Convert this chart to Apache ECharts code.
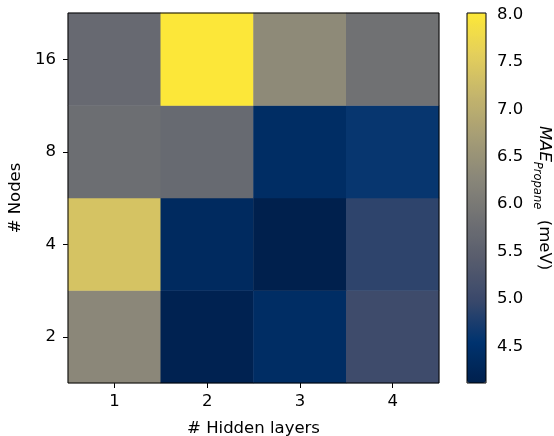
<!DOCTYPE html>
<html><head><meta charset="utf-8">
<script src="https://cdn.jsdelivr.net/npm/echarts@6/dist/echarts.min.js"></script>
<style>html,body{margin:0;padding:0;background:#fff}#c{width:554px;height:436px}</style>
</head><body><div id="c"></div>
<script>
const hiddenLayers = ['1', '2', '3', '4'];
const nodes = ['2', '4', '8', '16'];
// rows by node count (bottom to top), columns = hidden layers 1..4
const mae_n2  = [6.29, 4.16, 4.41, 5.05];
const mae_n4  = [7.38, 4.34, 4.11, 4.90];
const mae_n8  = [5.78, 5.70, 4.41, 4.60];
const mae_n16 = [5.69, 8.00, 6.35, 5.84];
const cbTicks = [4.5, 5.0, 5.5, 6.0, 6.5, 7.0, 7.5, 8.0];
const vmin = 4.115, vmax = 8.015;

const rows = [mae_n2, mae_n4, mae_n8, mae_n16];
const data = [];
rows.forEach((r, yi) => r.forEach((v, xi) => data.push([xi, yi, v])));

const cividis = ['#00204D','#00336F','#39486B','#575C6D','#707173','#8A8779','#A69D75','#C4B56C','#E4CF5B','#FDE838'];
const F = 'DejaVu Sans';
const FS = 16.5;
const chart = echarts.init(document.getElementById('c'), null, {renderer: 'canvas'});
chart.setOption({
  animation: false,
  backgroundColor: '#fff',
  textStyle: {fontFamily: F},
  grid: [
    {left: 68, top: 13, width: 371, height: 370, show: true, borderColor: '#000', borderWidth: 1, backgroundColor: 'transparent', z: 5, containLabel: false, outerBoundsMode: 'none'},
    {left: 467, top: 13, width: 19, height: 370, show: true, borderColor: '#000', borderWidth: 1, backgroundColor: 'transparent', z: 5, containLabel: false, outerBoundsMode: 'none'}
  ],
  xAxis: [
    {type: 'category', data: hiddenLayers, gridIndex: 0, position: 'bottom',
     name: '# Hidden layers', nameLocation: 'middle', nameGap: 37,
     nameTextStyle: {fontSize: FS, color: '#000', fontFamily: F},
     axisLine: {show: false}, splitLine: {show: false},
     axisTick: {show: true, alignWithLabel: true, length: 5, lineStyle: {color: '#000'}},
     axisLabel: {fontSize: FS, color: '#000', margin: 10, fontFamily: F}},
    {type: 'value', gridIndex: 1, min: 0, max: 1, show: false}
  ],
  yAxis: [
    {type: 'category', data: nodes, gridIndex: 0, position: 'left',
     name: '# Nodes', nameLocation: 'middle', nameGap: 35,
     nameTextStyle: {fontSize: FS, color: '#000', fontFamily: F},
     axisLine: {show: false}, splitLine: {show: false},
     axisTick: {show: true, alignWithLabel: true, length: 5, lineStyle: {color: '#000'}},
     axisLabel: {fontSize: FS, color: '#000', margin: 12, fontFamily: F}},
    {type: 'value', gridIndex: 1, min: vmin, max: vmax, position: 'right',
     axisLine: {show: false}, splitLine: {show: false},
     axisTick: {show: true, length: 5, lineStyle: {color: '#000'}, customValues: cbTicks},
     axisLabel: {fontSize: FS, color: '#000', margin: 11, fontFamily: F, customValues: cbTicks,
                 formatter: v => v.toFixed(1)},
     name: '{a|MAE}{b|Propane}{c|  (meV)}', nameLocation: 'middle', nameGap: 45, nameRotate: -90,
     nameTextStyle: {color: '#000', fontFamily: F, rich: {
       a: {fontSize: FS, fontStyle: 'italic', color: '#000', fontFamily: F, verticalAlign: 'top', lineHeight: 22},
       b: {fontSize: 11.5, fontStyle: 'italic', color: '#000', fontFamily: F, verticalAlign: 'bottom', lineHeight: 22, padding: [7, 0, 0, 0]},
       c: {fontSize: FS, color: '#000', fontFamily: F, verticalAlign: 'top', lineHeight: 22}
     }}}
  ],
  visualMap: {
    type: 'continuous', min: vmin, max: vmax, calculable: false, show: true,
    left: 467, top: 13, itemWidth: 19, itemHeight: 370, padding: 0,
    inRange: {color: cividis}, seriesIndex: 0, hoverLink: false
  },
  series: [{
    type: 'heatmap', xAxisIndex: 0, yAxisIndex: 0, data: data,
    itemStyle: {borderWidth: 0}, emphasis: {disabled: true}
  }]
});
</script></body></html>
